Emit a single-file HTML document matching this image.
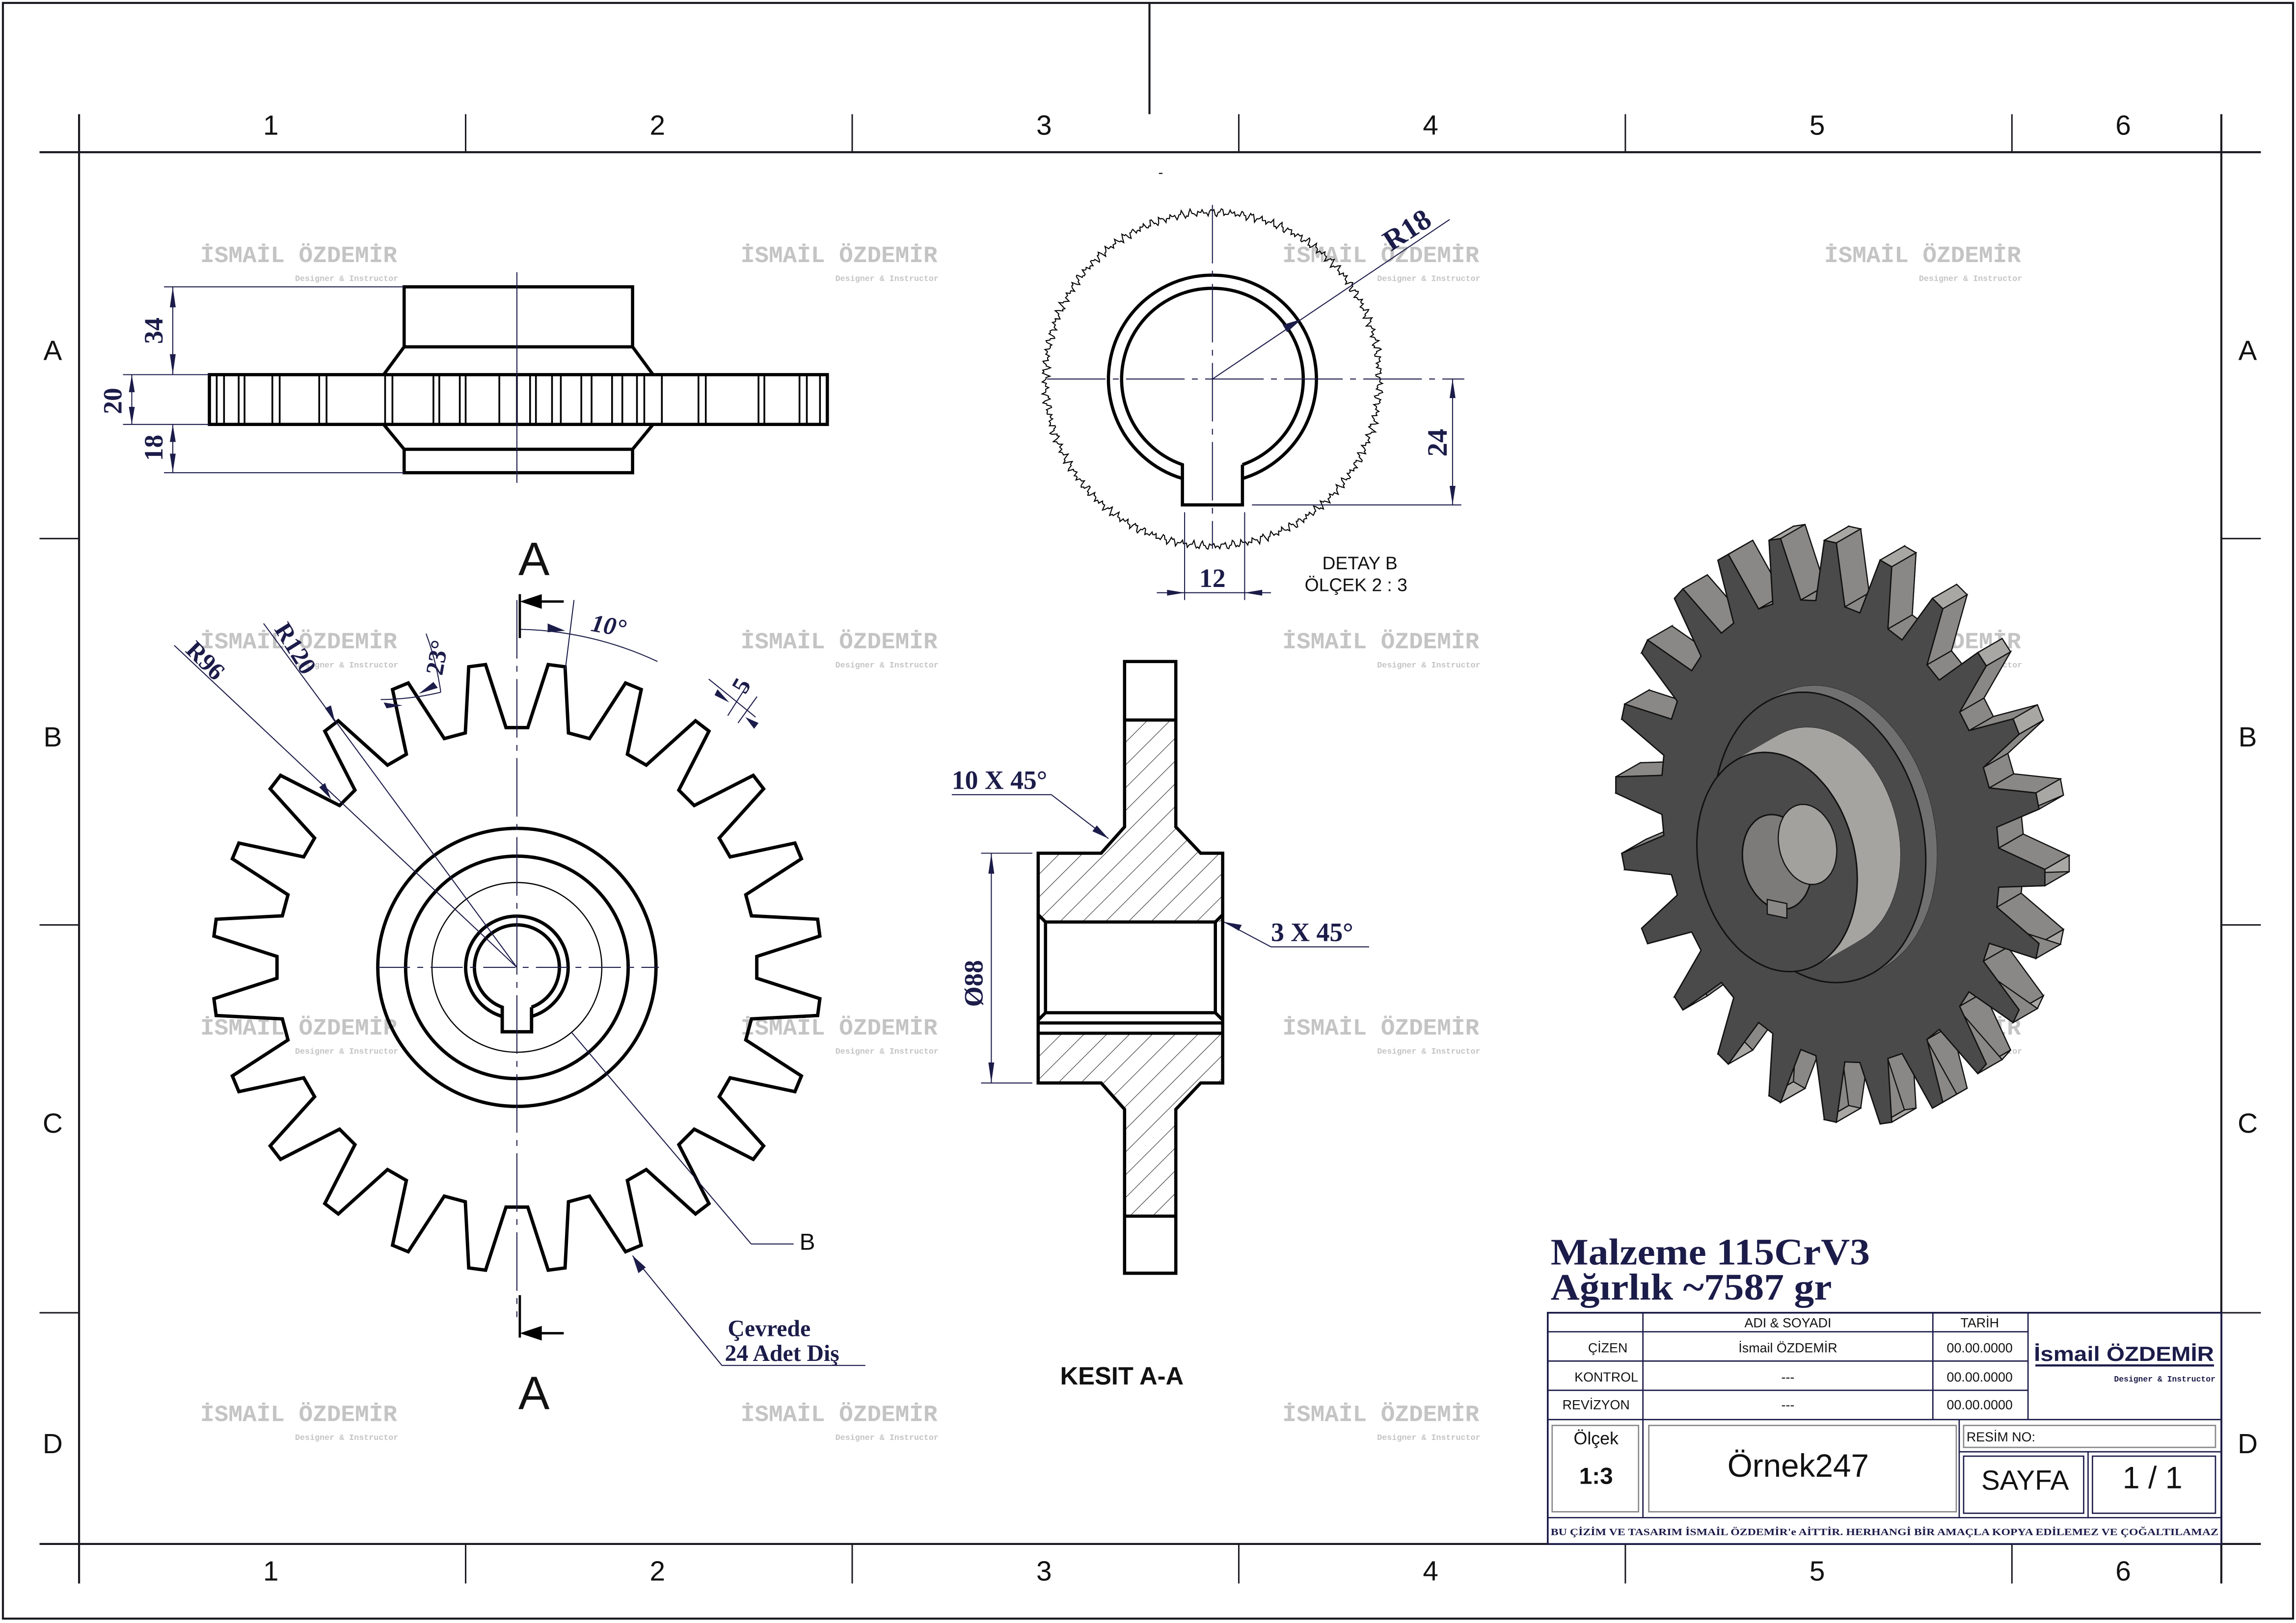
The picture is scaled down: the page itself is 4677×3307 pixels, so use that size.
<!DOCTYPE html>
<html><head><meta charset="utf-8">
<style>
html,body{margin:0;padding:0;background:#fff;}
svg{display:block;}
.t{font-family:"Liberation Sans",sans-serif;fill:#111;}
.d{font-family:"Liberation Serif",serif;font-weight:bold;fill:#1c1c4a;}
.wm{font-family:"Liberation Mono",monospace;font-weight:bold;fill:#c4c4c4;font-size:16px;}
.ws{font-family:"Liberation Mono",monospace;font-weight:bold;fill:#c4c4c4;font-size:5.6px;}
</style></head>
<body>
<svg id="s" xmlns="http://www.w3.org/2000/svg" width="4677" height="3307" viewBox="0 0 1568 1109" preserveAspectRatio="none">
<defs>
<pattern id="h" width="11" height="11" patternUnits="userSpaceOnUse" patternTransform="rotate(45)">
<line x1="0" y1="0" x2="0" y2="11" stroke="#222" stroke-width="0.7"/></pattern>
</defs>
<rect x="0" y="0" width="1568" height="1109" fill="#fff"/>
<g id="wm"></g>
<g stroke="#1a1a22" stroke-width="1.4" fill="none">
<rect x="2" y="2" width="1564" height="1104"/>
<line x1="27" y1="104" x2="1544" y2="104"/>
<line x1="27" y1="1055" x2="1544" y2="1055"/>
<line x1="54" y1="78" x2="54" y2="1082"/>
<line x1="1517" y1="78" x2="1517" y2="1082"/>
<line x1="785" y1="2" x2="785" y2="78"/>
<g stroke-width="1">
<line x1="318" y1="78" x2="318" y2="104"/><line x1="582" y1="78" x2="582" y2="104"/><line x1="846" y1="78" x2="846" y2="104"/><line x1="1110" y1="78" x2="1110" y2="104"/><line x1="1374" y1="78" x2="1374" y2="104"/>
<line x1="318" y1="1055" x2="318" y2="1082"/><line x1="582" y1="1055" x2="582" y2="1082"/><line x1="846" y1="1055" x2="846" y2="1082"/><line x1="1110" y1="1055" x2="1110" y2="1082"/><line x1="1374" y1="1055" x2="1374" y2="1082"/>
<line x1="27" y1="368" x2="54" y2="368"/><line x1="27" y1="632" x2="54" y2="632"/><line x1="27" y1="897" x2="54" y2="897"/>
<line x1="1517" y1="368" x2="1544" y2="368"/><line x1="1517" y1="632" x2="1544" y2="632"/><line x1="1517" y1="897" x2="1544" y2="897"/>
</g></g>
<g class="t" font-size="19" text-anchor="middle">
<text x="185" y="92">1</text><text x="449" y="92">2</text><text x="713" y="92">3</text><text x="977" y="92">4</text><text x="1241" y="92">5</text><text x="1450" y="92">6</text>
<text x="185" y="1080">1</text><text x="449" y="1080">2</text><text x="713" y="1080">3</text><text x="977" y="1080">4</text><text x="1241" y="1080">5</text><text x="1450" y="1080">6</text>
<text x="36" y="246">A</text><text x="36" y="510">B</text><text x="36" y="774">C</text><text x="36" y="993">D</text>
<text x="1535" y="246">A</text><text x="1535" y="510">B</text><text x="1535" y="774">C</text><text x="1535" y="993">D</text>
</g>

<g stroke="#000" stroke-width="2.2" fill="none">
<rect x="276" y="196" width="156" height="41"/>
<rect x="276" y="307" width="156" height="16"/>
<polyline points="276,237 262,256"/><polyline points="432,237 446,256"/>
<polyline points="262,290 276,307"/><polyline points="446,290 432,307"/>
<rect x="143" y="256" width="422" height="34"/>
</g>
<g id="sideLines" stroke="#000" stroke-width="1.2"></g>
<g stroke="#1c1c4a" stroke-width="0.7" fill="none">
<line x1="353" y1="186" x2="353" y2="330"/>
<line x1="112" y1="196" x2="276" y2="196"/>
<line x1="84" y1="256" x2="143" y2="256"/>
<line x1="84" y1="290" x2="143" y2="290"/>
<line x1="112" y1="323" x2="276" y2="323"/>
<line x1="118" y1="196" x2="118" y2="256"/>
<line x1="90" y1="256" x2="90" y2="290"/>
<line x1="118" y1="290" x2="118" y2="323"/>
</g>
<g fill="#1c1c4a">
<polygon points="118,196 116,210 120,210"/><polygon points="118,256 116,242 120,242"/>
<polygon points="90,256 88,268 92,268"/><polygon points="90,290 88,278 92,278"/>
<polygon points="118,290 116,302 120,302"/><polygon points="118,323 116,310 120,310"/>
</g>
<g class="d" font-size="18" text-anchor="middle">
<text transform="translate(111,226) rotate(-90)">34</text>
<text transform="translate(83,274) rotate(-90)">20</text>
<text transform="translate(111,306) rotate(-90)">18</text>
</g>

<path id="gear2d" fill="none" stroke="#000" stroke-width="2.3" stroke-linejoin="miter"/>
<g stroke="#000" stroke-width="2.3" fill="none">
<circle cx="353" cy="661" r="95"/>
<circle cx="353" cy="661" r="76"/>
<path id="bore1"/><path id="bore2"/>
</g>
<circle cx="353" cy="661" r="58" stroke="#000" stroke-width="0.8" fill="none"/>
<g stroke="#1c1c4a" stroke-width="0.7" fill="none">
<line x1="353" y1="410" x2="353" y2="900" stroke-dasharray="40 5 4 5"/>
<line x1="258" y1="661" x2="450" y2="661" stroke-dasharray="22 5 4 5"/>
<line x1="119" y1="441" x2="353" y2="661"/>
<line x1="180" y1="426" x2="353" y2="661"/>
<path d="M355,430 A231,231 0 0 1 449,452"/>
<line x1="392" y1="410" x2="386" y2="458"/>
<path d="M260,478 A180,180 0 0 0 301,473"/>
<path d="M291,433 A190,190 0 0 1 301,473"/>
<line x1="484" y1="464" x2="516" y2="490"/>
<line x1="511" y1="467" x2="497" y2="489"/>
<line x1="517" y1="476" x2="504" y2="494"/>
<line x1="390" y1="705" x2="513" y2="850"/><line x1="513" y1="850" x2="542" y2="850"/>
<line x1="432" y1="858" x2="493" y2="933"/><line x1="493" y1="933" x2="591" y2="933"/>
</g>
<g fill="#1c1c4a">
<polygon points="229,494 222,484 226,482"/>
<polygon points="226,546 218,538 222,535"/>
<polygon points="386,431 374,426 374,432"/>
<polygon points="498,480 490,471 488,475"/>
<polygon points="509,490 518,494 515,498"/>
<polygon points="432,858 436,870 441,866"/>
<polygon points="275,482 262,480 264,484"/>
<polygon points="286,474 296,466 299,470"/>
</g>
<g class="d" font-size="17">
<text transform="translate(126,445) rotate(45)">R96</text>
<text transform="translate(187,430) rotate(58)">R120</text>
<text transform="translate(302,462) rotate(-80)">23°</text>
<text transform="translate(403,431) rotate(10)" font-style="italic">10°</text>
<text transform="translate(509,475) rotate(-60)">5</text>
<text x="497" y="913" font-size="16">Çevrede</text>
<text x="495" y="930" font-size="16">24 Adet Diş</text>
</g>
<text class="t" x="546" y="854" font-size="16">B</text>
<g stroke="#000" stroke-width="1.6">
<line x1="355" y1="406" x2="355" y2="436"/><line x1="360" y1="411" x2="385" y2="411"/>
<line x1="355" y1="885" x2="355" y2="914"/><line x1="360" y1="911" x2="385" y2="911"/>
</g>
<polygon points="355,411 370,406 370,416" fill="#000"/>
<polygon points="355,911 370,906 370,916" fill="#000"/>
<text class="t" x="354" y="393" font-size="32">A</text>
<text class="t" x="354" y="963" font-size="32">A</text>

<path id="wavy" fill="none" stroke="#000" stroke-width="0.7"/>
<g stroke="#000" stroke-width="2.2" fill="none">
<path id="db1"/><path id="db2"/>
</g>
<g stroke="#1c1c4a" stroke-width="0.7" fill="none">
<line x1="715" y1="259" x2="1000" y2="259" stroke-dasharray="40 5 4 5"/>
<line x1="828" y1="140" x2="828" y2="375" stroke-dasharray="40 5 4 5"/>
<line x1="828" y1="259" x2="990" y2="150"/>
<line x1="855" y1="345" x2="998" y2="345"/>
<line x1="992" y1="259" x2="992" y2="345"/>
<line x1="809" y1="350" x2="809" y2="410"/><line x1="850" y1="350" x2="850" y2="410"/>
<line x1="790" y1="405" x2="868" y2="405"/>
</g>
<g fill="#1c1c4a">
<polygon points="889,218 876,222 879,227"/>
<polygon points="992,259 990,272 994,272"/><polygon points="992,345 990,332 994,332"/>
<polygon points="809,405 797,403 797,407"/><polygon points="850,405 862,403 862,407"/>
</g>
<text class="d" transform="translate(950,172) rotate(-33)" font-size="20">R18</text>
<text class="d" transform="translate(988,312) rotate(-90)" font-size="19">24</text>
<text class="d" x="819" y="401" font-size="18">12</text>
<text class="t" x="903" y="389" font-size="12.5" fill="#1c1c4a">DETAY B</text>
<text class="t" x="891" y="404" font-size="12.5" fill="#1c1c4a">ÖLÇEK 2 : 3</text>
<text class="t" x="791" y="121" font-size="10">-</text>

<g fill="url(#h)" stroke="none">
<polygon points="768,492 803,492 803,565 820,583 835,583 835,630 709,630 709,583 752,583 768,565"/>
<polygon points="709,706 835,706 835,740 820,740 803,758 803,831 768,831 768,758 752,740 709,740"/>
</g>
<g stroke="#000" stroke-width="2.2" fill="none">
<polygon points="768,452 803,452 803,565 820,583 835,583 835,740 820,740 803,758 803,870 768,870 768,758 752,740 709,740 709,583 752,583 768,565"/>
<line x1="768" y1="492" x2="803" y2="492"/><line x1="768" y1="831" x2="803" y2="831"/>
<line x1="713" y1="630" x2="831" y2="630"/><line x1="713" y1="692" x2="831" y2="692"/>
<line x1="714" y1="630" x2="714" y2="692"/><line x1="830" y1="630" x2="830" y2="692"/>
<line x1="709" y1="625" x2="714" y2="630"/><line x1="835" y1="625" x2="830" y2="630"/>
<line x1="709" y1="697" x2="714" y2="692"/><line x1="835" y1="697" x2="830" y2="692"/>
<line x1="709" y1="699" x2="835" y2="699"/><line x1="709" y1="706" x2="835" y2="706"/>
</g>
<g stroke="#1c1c4a" stroke-width="0.7" fill="none">
<line x1="670" y1="583" x2="705" y2="583"/><line x1="670" y1="740" x2="705" y2="740"/>
<line x1="677" y1="583" x2="677" y2="740"/>
<line x1="650" y1="543" x2="718" y2="543"/><line x1="718" y1="543" x2="757" y2="573"/>
<line x1="836" y1="630" x2="868" y2="647"/><line x1="868" y1="647" x2="935" y2="647"/>
</g>
<g fill="#1c1c4a">
<polygon points="677,583 675,597 679,597"/><polygon points="677,740 675,726 679,726"/>
<polygon points="757,573 746,568 749,564"/>
<polygon points="836,630 848,632 846,636"/>
</g>
<g class="d" font-size="18">
<text x="650" y="539">10 X 45°</text>
<text x="868" y="643">3 X 45°</text>
<text transform="translate(671,688) rotate(-90)">Ø88</text>
</g>
<text class="t" x="724" y="946" font-size="17" font-weight="bold" fill="#1c1c4a">KESIT A-A</text>

<g id="g3d"></g>

<rect x="1057" y="897" width="460" height="158" fill="#fff"/>
<g class="d" font-size="25.5"><text x="1059" y="864" textLength="218" lengthAdjust="spacingAndGlyphs">Malzeme 115CrV3</text><text x="1059" y="888" textLength="192" lengthAdjust="spacingAndGlyphs">Ağırlık ~7587 gr</text></g>
<g stroke="#1c1c4a" stroke-width="0.9" fill="none">
<rect x="1057" y="897" width="460" height="158" stroke-width="1.2"/>
<line x1="1057" y1="910" x2="1385" y2="910"/>
<line x1="1057" y1="930" x2="1385" y2="930"/>
<line x1="1057" y1="950" x2="1385" y2="950"/>
<line x1="1057" y1="970" x2="1517" y2="970"/>
<line x1="1057" y1="1037" x2="1517" y2="1037"/>
<line x1="1122" y1="897" x2="1122" y2="1037"/>
<line x1="1320" y1="897" x2="1320" y2="970"/>
<line x1="1385" y1="897" x2="1385" y2="970"/>
<line x1="1338" y1="970" x2="1338" y2="1037"/>
<line x1="1338" y1="992" x2="1517" y2="992"/>
<line x1="1426" y1="992" x2="1426" y2="1037"/>
<rect x="1060" y="974" width="59" height="59" stroke="#888"/>
<rect x="1126" y="974" width="210" height="59" stroke="#888"/>
<rect x="1341" y="974" width="172" height="15" stroke="#888"/>
<rect x="1341" y="995" width="82" height="39"/>
<rect x="1429" y="995" width="84" height="39"/>
<line x1="1390" y1="933" x2="1512" y2="933" stroke-width="1.5"/>
</g>
<g class="t" fill="#1c1c4a" font-size="9" text-anchor="middle">
<text x="1221" y="907">ADI &amp; SOYADI</text><text x="1352" y="907">TARİH</text>
<text x="1098" y="924">ÇİZEN</text><text x="1221" y="924">İsmail ÖZDEMİR</text><text x="1352" y="924">00.00.0000</text>
<text x="1097" y="944">KONTROL</text><text x="1221" y="944">---</text><text x="1352" y="944">00.00.0000</text>
<text x="1090" y="963">REVİZYON</text><text x="1221" y="963">---</text><text x="1352" y="963">00.00.0000</text>
<text x="1090" y="987" font-size="12">Ölçek</text>
<text x="1090" y="1014" font-size="16" font-weight="bold">1:3</text>
<text x="1228" y="1009" font-size="22">Örnek247</text>
<text x="1383" y="1018" font-size="19">SAYFA</text>
<text x="1470" y="1017" font-size="21">1 / 1</text>
</g>
<text class="t" x="1343" y="985" font-size="9" fill="#1c1c4a">RESİM NO:</text>
<text x="1389" y="930" font-family="Liberation Sans,sans-serif" font-weight="bold" font-size="14" fill="#1c1c4a" textLength="123" lengthAdjust="spacingAndGlyphs">İsmail ÖZDEMİR</text>
<text x="1513" y="944" font-family="Liberation Mono,monospace" font-weight="bold" font-size="5.5" fill="#1c1c4a" text-anchor="end">Designer &amp; Instructor</text>
<text x="1059" y="1049" class="d" font-size="6.8" textLength="456" lengthAdjust="spacingAndGlyphs">BU ÇİZİM VE TASARIM İSMAİL ÖZDEMİR'e AİTTİR. HERHANGİ BİR AMAÇLA KOPYA EDİLEMEZ VE ÇOĞALTILAMAZ</text>
</svg>
<script>
(function(){
var NS="http://www.w3.org/2000/svg";
function el(p,t,a){var e=document.createElementNS(NS,t);for(var k in a)e.setAttribute(k,a[k]);p.appendChild(e);return e;}
var D=Math.PI/180;
var wm=document.getElementById('wm');
[174,438,702,966].forEach(function(y){[204,573,943,1313].forEach(function(x){
 var t=el(wm,'text',{x:x,y:y+5,'class':'wm','text-anchor':'middle'});t.textContent='İSMAİL ÖZDEMİR';
 var s=el(wm,'text',{x:x+68,y:y+18,'class':'ws','text-anchor':'end'});s.textContent='Designer & Instructor';
});});
var sl=document.getElementById('sideLines');
[148,153,163,167,186,191,218,223,263,268,296,300,314,318,341,353,362,366,377,383,397,404,418,425,435,440,452,477,482,518,522,546,551,560].forEach(function(x){el(sl,'line',{x1:x,y1:257,x2:x,y2:289});});
function gearPts(N,Ro,Rr,ht,hr,start){var pts=[];for(var i=0;i<N;i++){var c=start+i*360/N;
 pts.push([c-hr,Rr],[c-ht,Ro],[c+ht,Ro],[c+hr,Rr]);}return pts;}
var gp=gearPts(24,208,164,1.6,4.9,-90+7.5);
var d='';gp.forEach(function(p,i){var x=353+p[1]*Math.cos(p[0]*D),y=661+p[1]*Math.sin(p[0]*D);d+=(i?'L':'M')+x.toFixed(2)+','+y.toFixed(2);});
document.getElementById('gear2d').setAttribute('d',d+'Z');
function keyBore(cx,cy,R,kw){var hx=kw/2;var a=Math.asin(hx/R);var a0=90*D+a,a1=90*D-a;
 var sy=cy+R*Math.sin(a0),ey=cy+R*Math.sin(a1);
 return 'M'+(cx+hx)+','+ey+' A'+R+','+R+' 0 1 0 '+(cx-hx)+','+sy;}
document.getElementById('bore1').setAttribute('d',keyBore(353,661,35,20)+' L'+(343)+','+(661+Math.sqrt(35*35-100)));
document.getElementById('bore2').setAttribute('d',keyBore(353,661,29,20)+' L343,705 L363,705 L363,'+(661+Math.sqrt(29*29-100)).toFixed(2));
document.getElementById('db1').setAttribute('d',keyBore(828,259,71,41)+' L807.5,'+(259+Math.sqrt(71*71-20.5*20.5)).toFixed(2));
document.getElementById('db2').setAttribute('d',keyBore(828,259,62,41)+' L807.5,345 L848.5,345 L848.5,'+(259+Math.sqrt(62*62-20.5*20.5)).toFixed(2));
var w='';for(var i=0;i<=720;i++){var a=i/720*2*Math.PI;var r=114+1.6*Math.sin(i*0.9)+1.2*Math.sin(i*2.3+1)+0.8*Math.sin(i*5.1);
 w+=(i?'L':'M')+(828+r*Math.cos(a)).toFixed(2)+','+(259+r*Math.sin(a)).toFixed(2);}
document.getElementById('wavy').setAttribute('d',w+'Z');
// 3D gear
var g=document.getElementById('g3d');var cx=1250,cy=568;
function P(u,v,w){return [cx+0.74*u-0.52*w, cy+v+0.16*u+0.3*w];}
function ps(a){return a.map(function(p){return p[0].toFixed(1)+','+p[1].toFixed(1);}).join(' ');}
var T=32;
var g3=gearPts(24,198,156,1.6,4.9,-90);
function pt(p,w){return P(p[1]*Math.cos(p[0]*D),p[1]*Math.sin(p[0]*D),w);}
var back=g3.map(function(p){return pt(p,-T);}),front=g3.map(function(p){return pt(p,0);});
el(g,'polygon',{points:ps(back),fill:'#4a4a4a',stroke:'#111','stroke-width':0.8});
for(var i=0;i<g3.length;i++){var j=(i+1)%g3.length;
 el(g,'polygon',{points:ps([front[i],front[j],back[j],back[i]]),fill:(i%4==1)?'#a9a7a4':'#8a8886',stroke:'#111','stroke-width':0.8});}
el(g,'polygon',{points:ps(front),fill:'#4a4a4a',stroke:'#111','stroke-width':0.9});
function cyl(R,w0,w1,fillSide,fillFront){var n=120,i,a;
 var A=[],B=[];for(i=0;i<n;i++){a=i/n*2*Math.PI;A.push(P(R*Math.cos(a),R*Math.sin(a),w0));B.push(P(R*Math.cos(a),R*Math.sin(a),w1));}
 el(g,'polygon',{points:ps(A),fill:fillSide,stroke:'#111','stroke-width':1});
 for(i=0;i<n;i++){var j=(i+1)%n;el(g,'polygon',{points:ps([A[i],A[j],B[j],B[i]]),fill:fillSide,stroke:fillSide,'stroke-width':0.6});}
 el(g,'polygon',{points:ps(B),fill:fillFront,stroke:'#111','stroke-width':1});}
cyl(98,0,14,'#707070','#4a4a4a');
cyl(74,14,70,'#a6a4a1','#4a4a4a');
var bo=[],bi=[];for(var k=0;k<80;k++){var a=k/80*2*Math.PI;bo.push(P(32*Math.cos(a),32*Math.sin(a),70));bi.push(P(27*Math.cos(a),27*Math.sin(a),30));}
el(g,'polygon',{points:ps(bo),fill:'#7d7b79',stroke:'#111','stroke-width':1});
el(g,'polygon',{points:ps(bi),fill:'#a3a19e',stroke:'#111','stroke-width':0.8});
el(g,'polygon',{points:ps([P(-9,27,70),P(9,27,70),P(9,37,70),P(-9,37,70)]),fill:'#8a8886',stroke:'#111','stroke-width':0.8});
})();
</script>
</body></html>
